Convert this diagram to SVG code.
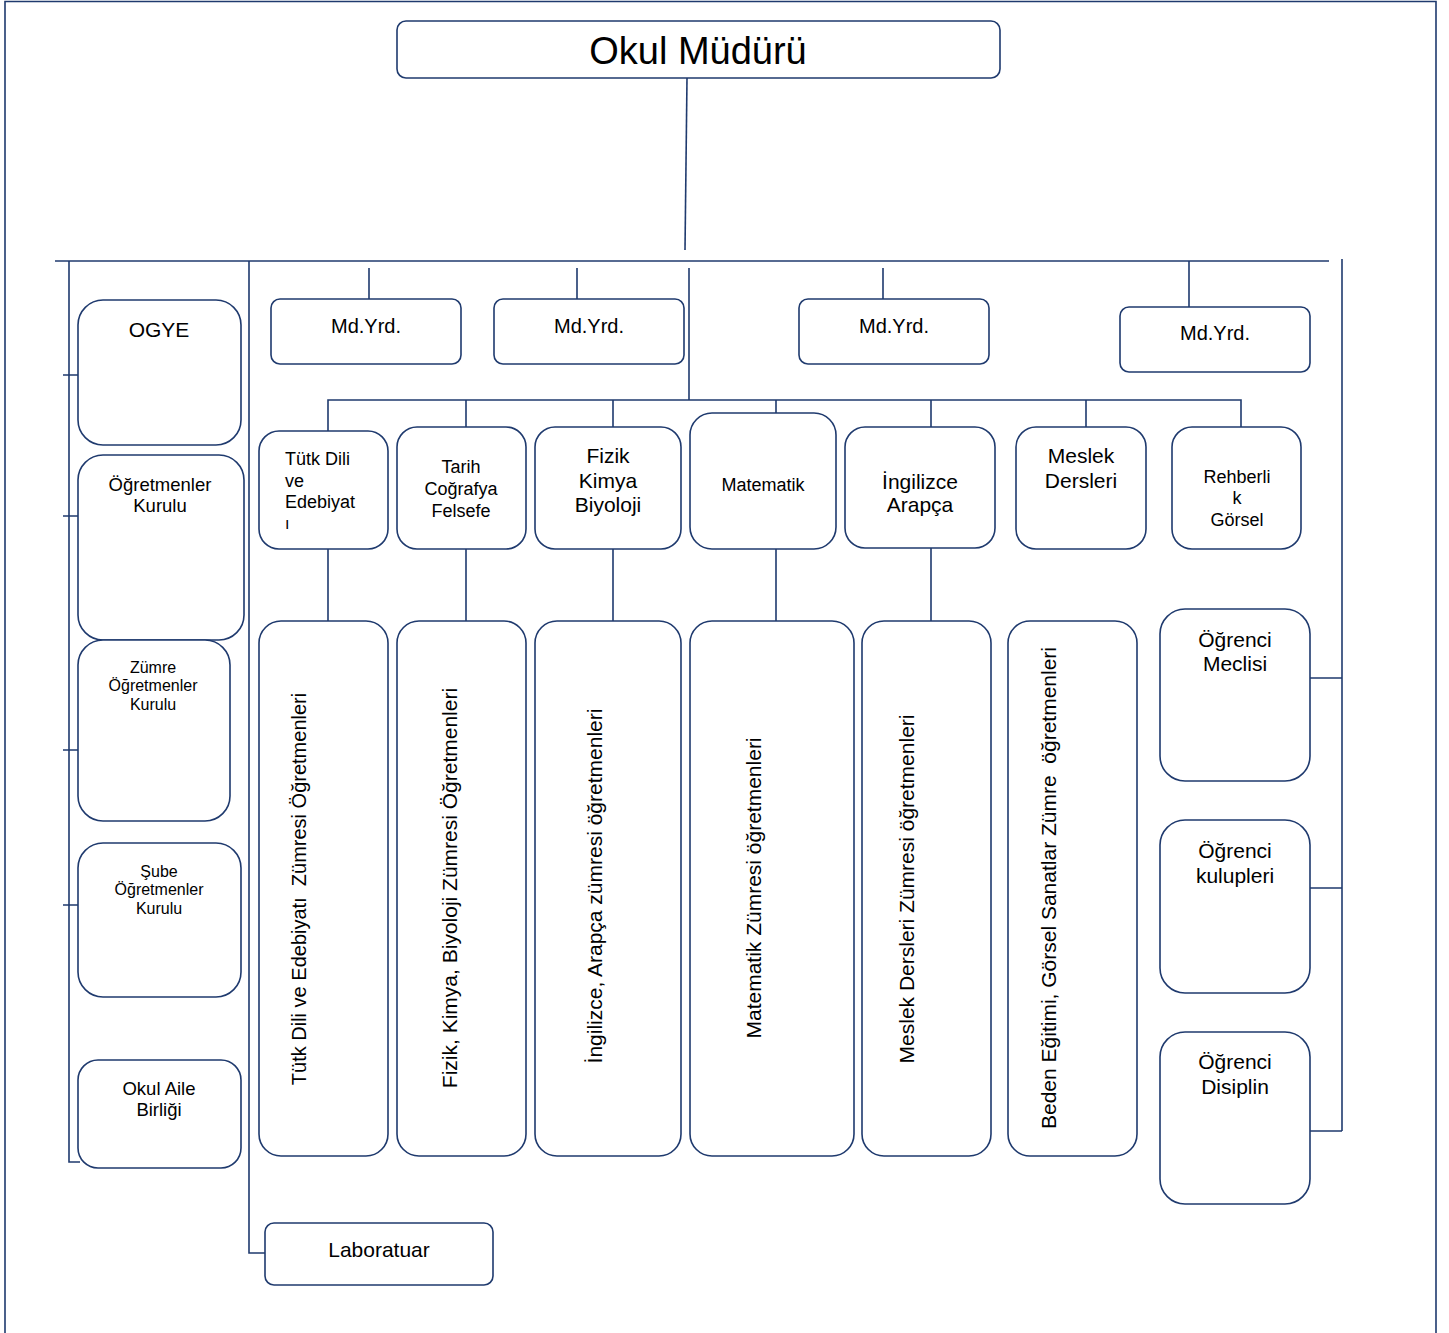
<svg xmlns="http://www.w3.org/2000/svg" width="1449" height="1333" viewBox="0 0 1449 1333">
<style>
.b{fill:#fff;stroke:#1F3A6E;stroke-width:1.6}
.l{fill:none;stroke:#1F3A6E;stroke-width:1.6}
text{font-family:"Liberation Sans",Arial,sans-serif;fill:#000;white-space:pre}
.c{text-anchor:middle}
.v{text-anchor:middle;font-size:21px}
</style>
<rect width="1449" height="1333" fill="#fff"/>
<path class="l" d="M5,1333 V1.5 H1436 V1333"/>
<g id="connectors">
<path class="l" d="M687,78 L685,250"/>
<path class="l" d="M55,261 H1329"/>
<path class="l" d="M1342,259 V1131"/>
<path class="l" d="M1310,678 H1342 M1310,888 H1342 M1310,1131 H1342"/>
<path class="l" d="M69,261 V1162 H80"/>
<path class="l" d="M63,375 H78 M63,516 H78 M63,750 H78 M63,905 H78"/>
<path class="l" d="M249,261 V1253 H265"/>
<path class="l" d="M369,268 V299 M577,268 V299 M883,268 V299 M1189,261 V307"/>
<path class="l" d="M689,268 V400"/>
<path class="l" d="M328,431 V400 H1241 V427"/>
<path class="l" d="M466,400 V427 M613,400 V427 M776,400 V413 M931,400 V427 M1086,400 V427"/>
<path class="l" d="M328,549 V621 M466,549 V621 M613,549 V621 M776,549 V621 M931,548 V621"/>
</g>
<g id="n-mudur"><rect class="b" x="397" y="21" width="603" height="57" rx="9"/><text class="c" x="698" y="64" font-size="38">Okul Müdürü</text></g>
<g id="n-yrd1"><rect class="b" x="271" y="299" width="190" height="65" rx="9"/><text class="c" x="366" y="333" font-size="20">Md.Yrd.</text></g>
<g id="n-yrd2"><rect class="b" x="494" y="299" width="190" height="65" rx="9"/><text class="c" x="589" y="333" font-size="20">Md.Yrd.</text></g>
<g id="n-yrd3"><rect class="b" x="799" y="299" width="190" height="65" rx="9"/><text class="c" x="894" y="333" font-size="20">Md.Yrd.</text></g>
<g id="n-yrd4"><rect class="b" x="1120" y="307" width="190" height="65" rx="9"/><text class="c" x="1215" y="340" font-size="20">Md.Yrd.</text></g>

<g id="n-ogye"><rect class="b" x="78" y="300" width="163" height="145" rx="25"/><text class="c" x="159" y="337" font-size="21">OGYE</text></g>
<g id="n-ogretmenler"><rect class="b" x="78" y="455" width="166" height="185" rx="25"/><text class="c" x="160" y="491" font-size="18.5">Öğretmenler</text><text class="c" x="160" y="512" font-size="18.5">Kurulu</text></g>
<g id="n-zumre"><rect class="b" x="78" y="640" width="152" height="181" rx="25"/><text class="c" x="153" y="673" font-size="16">Zümre</text><text class="c" x="153" y="691" font-size="16">Öğretmenler</text><text class="c" x="153" y="710" font-size="16">Kurulu</text></g>
<g id="n-sube"><rect class="b" x="78" y="843" width="163" height="154" rx="25"/><text class="c" x="159" y="877" font-size="16">Şube</text><text class="c" x="159" y="895" font-size="16">Öğretmenler</text><text class="c" x="159" y="914" font-size="16">Kurulu</text></g>
<g id="n-aile"><rect class="b" x="78" y="1060" width="163" height="108" rx="20"/><text class="c" x="159" y="1095" font-size="18.5">Okul Aile</text><text class="c" x="159" y="1116" font-size="18.5">Birliği</text></g>
<g id="n-lab"><rect class="b" x="265" y="1223" width="228" height="62" rx="9"/><text class="c" x="379" y="1257" font-size="21">Laboratuar</text></g>

<g id="n-turk"><rect class="b" x="259" y="431" width="129" height="118" rx="20"/><text x="285" y="465" font-size="18">Tütk Dili</text><text x="285" y="487" font-size="18">ve</text><text x="285" y="508" font-size="18">Edebiyat</text><text x="285" y="529" font-size="16">ı</text></g>
<g id="n-tarih"><rect class="b" x="397" y="427" width="129" height="122" rx="20"/><text class="c" x="461" y="473" font-size="18">Tarih</text><text class="c" x="461" y="495" font-size="18">Coğrafya</text><text class="c" x="461" y="517" font-size="18">Felsefe</text></g>
<g id="n-fizik"><rect class="b" x="535" y="427" width="146" height="122" rx="20"/><text class="c" x="608" y="463" font-size="21">Fizik</text><text class="c" x="608" y="488" font-size="21">Kimya</text><text class="c" x="608" y="512" font-size="21">Biyoloji</text></g>
<g id="n-mat"><rect class="b" x="690" y="413" width="146" height="136" rx="22"/><text class="c" x="763" y="491" font-size="18">Matematik</text></g>
<g id="n-ing"><rect class="b" x="845" y="427" width="150" height="121" rx="20"/><text class="c" x="920" y="489" font-size="21">İngilizce</text><text class="c" x="920" y="512" font-size="21">Arapça</text></g>
<g id="n-meslek"><rect class="b" x="1016" y="427" width="130" height="122" rx="20"/><text class="c" x="1081" y="463" font-size="21">Meslek</text><text class="c" x="1081" y="488" font-size="21">Dersleri</text></g>
<g id="n-rehber"><rect class="b" x="1172" y="427" width="129" height="122" rx="20"/><text class="c" x="1237" y="483" font-size="18">Rehberli</text><text class="c" x="1237" y="504" font-size="18">k</text><text class="c" x="1237" y="526" font-size="18">Görsel</text></g>

<g id="n-z1"><rect class="b" x="259" y="621" width="129" height="535" rx="22"/><text class="v" style="font-size:20px" transform="translate(306,889) rotate(-90)">Tütk Dili ve Edebiyatı  Zümresi Öğretmenleri</text></g>
<g id="n-z2"><rect class="b" x="397" y="621" width="129" height="535" rx="22"/><text class="v" transform="translate(457,888) rotate(-90)">Fizik, Kimya, Biyoloji Zümresi Öğretmenleri</text></g>
<g id="n-z3"><rect class="b" x="535" y="621" width="146" height="535" rx="22"/><text class="v" transform="translate(602,886) rotate(-90)">İngilizce, Arapça zümresi öğretmenleri</text></g>
<g id="n-z4"><rect class="b" x="690" y="621" width="164" height="535" rx="22"/><text class="v" transform="translate(761,888) rotate(-90)">Matematik Zümresi öğretmenleri</text></g>
<g id="n-z5"><rect class="b" x="862" y="621" width="129" height="535" rx="22"/><text class="v" transform="translate(914,889) rotate(-90)">Meslek Dersleri Zümresi öğretmenleri</text></g>
<g id="n-z6"><rect class="b" x="1008" y="621" width="129" height="535" rx="22"/><text class="v" transform="translate(1056,888) rotate(-90)">Beden Eğitimi, Görsel Sanatlar Zümre  öğretmenleri</text></g>

<g id="n-meclis"><rect class="b" x="1160" y="609" width="150" height="172" rx="25"/><text class="c" x="1235" y="647" font-size="21">Öğrenci</text><text class="c" x="1235" y="671" font-size="21">Meclisi</text></g>
<g id="n-kulup"><rect class="b" x="1160" y="820" width="150" height="173" rx="25"/><text class="c" x="1235" y="858" font-size="21">Öğrenci</text><text class="c" x="1235" y="883" font-size="21">kulupleri</text></g>
<g id="n-disiplin"><rect class="b" x="1160" y="1032" width="150" height="172" rx="25"/><text class="c" x="1235" y="1069" font-size="21">Öğrenci</text><text class="c" x="1235" y="1094" font-size="21">Disiplin</text></g>
</svg>
